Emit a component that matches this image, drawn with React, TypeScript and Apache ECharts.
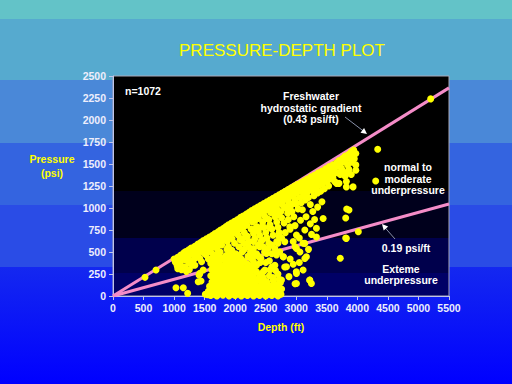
import React, { useEffect, useRef } from "react";
import * as echarts from "echarts";

const xTicks = [0, 500, 1000, 1500, 2000, 2500, 3000, 3500, 4000, 4500, 5000, 5500];
const yTicks = [0, 250, 500, 750, 1000, 1250, 1500, 1750, 2000, 2250, 2500];

const hydroLine = [[0, 0], [5500, 2365]];
const underLine = [[0, 0], [5500, 1045]];

const upperBand = [
  [1000,420],[1020,385],[1060,440],[1080,400],[1050,345],[1110,465],[1130,425],[1100,370],[1160,490],[1150,445],
  [1190,505],[1210,470],[1180,410],[1240,525],[1260,490],[1230,440],[1280,545],[1300,510],[1320,470],[1290,395],
  [1340,565],[1360,530],[1350,480],[1390,590],[1400,550],[1420,505],[1380,455],[1440,610],[1460,575],[1450,530],
  [1480,630],[1500,600],[1510,555],[1490,490],[1530,650],[1550,620],[1560,575],[1540,520],[1580,670],[1600,640],
  [1610,595],[1590,545],[1630,690],[1650,660],[1660,615],[1640,560],[1670,710],[1690,680],[1700,640],[1680,590],
  [1720,730],[1740,700],[1750,655],[1730,605],[1760,750],[1780,720],[1800,680],[1790,630],[1810,770],[1830,740],
  [1840,700],[1820,650],[1850,790],[1870,760],[1880,715],[1900,675],[1890,810],[1910,780],[1930,740],[1920,690],
  [1940,830],[1960,800],[1980,760],[1970,715],[1990,850],[2010,820],[2020,780],[2000,735],[2040,870],[2060,840],
  [2070,800],[2050,750],[2090,895],[2100,860],[2110,820],[2120,770],[2130,910],[2150,880],[2160,840],[2140,790],
  [2180,930],[2200,900],[2210,860],[2190,805],[2230,950],[2240,920],[2250,875],[2270,970],[2290,940],[2300,895],
  [2280,840],[2320,990],[2340,960],[2350,915],[2330,860],[2370,1010],[2390,980],[2400,935],[2380,880],[2420,1030],
  [2440,1000],[2450,950],[2470,1050],[2490,1020],[2500,975],[2480,910],[2520,1070],[2540,1040],[2550,995],[2570,1090],
  [2590,1060],[2600,1015],[2580,950],[2620,1110],[2640,1080],[2650,1035],[2670,1130],[2690,1100],[2700,1050],[2680,990],
  [2720,1150],[2740,1120],[2750,1075],[2770,1170],[2790,1140],[2800,1095],[2780,1030],[2820,1190],[2840,1160],[2850,1110],
  [2870,1210],[2890,1180],[2900,1130],[2880,1060],[2920,1230],[2940,1200],[2950,1150],[2970,1250],[2990,1220],[3000,1170],
  [2980,1100],[3020,1270],[3040,1240],[3060,1195],[3080,1290],[3100,1260],[3110,1210],[3130,1310],[3150,1280],[3170,1230],
  [3180,1330],[3200,1300],[3220,1250],[3240,1355],[3260,1320],[3280,1270],[3300,1375],[3320,1340],[3340,1290],[3360,1400],
  [3380,1365],[3400,1320],[3420,1420],[3440,1385],[3460,1340],[3480,1445],[3500,1410],[3520,1360],[3540,1470],[3560,1430],
  [3580,1385],[3600,1490],[3620,1455],[3640,1405],[3660,1515],[3680,1475],[3700,1540],[3720,1500],[3740,1450],[3760,1565],
  [3780,1525],[3800,1590],[3820,1550],[3840,1490],[3860,1610],[3880,1575],[3900,1640],[3920,1600],[3940,1660],[3950,1560],
  [3910,1520],[3860,1440],
  [1130,330],[1240,380],[1330,420],[1420,430],[1520,470],[1600,500],[1700,540],[1780,580],[1870,620],[1950,650],
  [1340,350],[1450,390],[1560,420],[1680,470],[1890,560],[1990,600],[2080,640],[2170,670]
];

const midCloud = [
  [2050,690],[2100,650],[2150,720],[2200,680],[2230,620],[2260,760],[2300,710],[2320,650],[2350,790],[2380,740],
  [2400,690],[2420,620],[2450,840],[2470,780],[2500,720],[2520,660],[2550,870],[2570,810],[2600,760],[2620,690],
  [2650,900],[2680,840],[2700,780],[2720,720],[2750,960],[2760,890],[2800,830],[2830,1000],[2860,940],[2870,870],
  [2900,1010],[2930,960],[2960,900],[3000,1050],[3030,990],[3060,1120],[3080,1060],[3100,980],[3120,1150],[3150,1090],
  [3180,1180],[3200,1120],[3230,1040],[3260,1200],[3290,1140],[3320,1230],[3350,1170],[3380,1260],[3400,1190],[3430,1280],
  [3460,1220],[3500,1300],[3530,1250],[3560,1330],[3600,1350],[3630,1300],[3680,1400],[3720,1380],[3760,1420],[3800,1360],
  [3850,1400],[3900,1380],[3700,1280],[3660,1280],[3820,1300],[3820,1240],[3930,1240],[3975,1430],[3975,1490],[3975,1620],
  [3270,960],[3350,1010],[3420,1070],[3300,870],[3440,880],[3330,770],[3230,820],[3160,900],[3070,860],[2980,800],
  [2900,760],[2820,720],[2760,660],[2680,620],[2600,580],[2540,540],[2460,560],[2380,580],[2300,540],[2220,560],
  [2140,600],[2060,560],[2520,880],[2620,950],[2700,920],[2850,1010],[2950,1050],[2440,790],[2330,760],[2560,780],
  [2250,500],[2300,620],[2350,480],[2400,560],[2450,640],[2480,500],[2550,600],[2600,480],[2650,540],[2700,600],
  [2720,680],[2200,600],[2150,530],[2280,430],[2380,450]
];

const lowerScatter = [
  [2349,276],[2485,295],[2567,295],[2758,181],[2840,332],[3003,143],[3112,295],[3221,181],[3248,143],[3003,257],
  [3166,446],[3139,598],[3003,541],[2512,484],[2676,465],[2730,503],[2785,446],[2812,617],[3003,692],[2894,787],
  [3330,670],[3140,750],[3110,600],[2980,560],[3140,427],[3000,275],[3220,180],[2980,140],[2790,445],[2810,330],
  [2650,350],[2460,275],[2900,420],[2950,360],[3050,380],[2700,250],[2620,210],[2880,220],[3060,500],[3200,530],
  [2560,400],[2420,430],[2950,620],[3250,700],[3050,660],
  [1060,310],[1120,300],[1180,330],[1250,300],[1300,350],[1200,280]
];

const outliers = [
  [524,212],[704,295],[1031,94],[1151,94],[1222,30],[1511,19],[1408,239],[1441,170],[1395,162],[1422,257],
  [1477,295],[4333,1667],[4300,1306],[3825,988],[3863,977],[3809,886],[4016,730],[3809,659],[3720,428],[5200,2240],
  [3820,655]
];

const column = [
  [1550,15],[1560,55],[1580,110],
  [1600,5],[1610,45],[1605,95],[1620,160],[1600,230],[1615,300],[1600,370],[1620,430],
  [1650,20],[1660,70],[1645,130],[1665,190],[1650,255],[1655,320],[1670,390],[1650,460],
  [1700,0],[1710,40],[1700,100],[1715,150],[1700,215],[1720,275],[1705,340],[1710,410],
  [1750,25],[1760,65],[1745,120],[1765,185],[1750,245],[1760,305],[1745,370],[1760,440],[1755,500],
  [1800,10],[1810,50],[1800,100],[1815,160],[1800,220],[1810,280],[1820,350],[1805,420],
  [1850,30],[1860,75],[1845,135],[1865,195],[1850,260],[1855,330],[1860,395],[1850,460],[1865,530],
  [1900,0],[1910,45],[1900,95],[1915,150],[1900,210],[1905,275],[1915,340],[1900,400],[1910,470],
  [1950,20],[1960,65],[1945,120],[1965,180],[1950,245],[1960,310],[1950,370],[1960,440],[1945,520],
  [2000,5],[2010,50],[2000,100],[2015,160],[2000,220],[2010,285],[2020,345],[2005,410],[2010,480],
  [2050,25],[2060,70],[2045,125],[2065,185],[2050,250],[2060,320],[2050,390],[2060,460],
  [2100,0],[2110,45],[2100,95],[2115,150],[2100,215],[2110,280],[2105,350],[2100,420],[2115,500],
  [2150,20],[2160,65],[2145,120],[2165,180],[2150,245],[2160,310],[2150,390],
  [2200,5],[2210,50],[2200,100],[2215,160],[2200,225],[2210,290],[2205,360],[2210,450],
  [2250,25],[2260,70],[2245,125],[2265,190],[2250,260],[2260,340],[2255,430],
  [2300,0],[2310,45],[2300,100],[2315,160],[2300,220],[2310,300],[2300,390],[2310,470],
  [2350,20],[2360,65],[2345,120],[2365,185],[2350,350],
  [2400,5],[2410,50],[2400,105],[2415,170],[2400,240],[2410,380],
  [2450,25],[2460,70],[2445,130],[2460,210],
  [2500,0],[2510,45],[2500,100],[2515,165],[2500,380],
  [2550,20],[2560,65],[2545,125],[2560,230],
  [2600,5],[2610,50],[2600,110],[2620,180],[2600,330],
  [2650,25],[2660,75],[2645,140],[2660,290],
  [2700,0],[2710,45],[2700,110],[2720,190],
  [2750,20],[2760,80],[2740,150]
];

const FONT = "'Liberation Sans', Arial, sans-serif";

export default function App() {
  const ref = useRef<HTMLDivElement>(null);
  useEffect(() => {
    if (!ref.current) return;
    const chart = echarts.init(ref.current, null, { renderer: "svg", width: 512, height: 384 });
    const bg = new echarts.graphic.LinearGradient(0, 0, 0, 1, [
      { offset: 0, color: "#63c3c8" },
      { offset: 19 / 384, color: "#63c3c8" },
      { offset: 19 / 384, color: "#56aacf" },
      { offset: 80 / 384, color: "#56aacf" },
      { offset: 80 / 384, color: "#4a88d8" },
      { offset: 143 / 384, color: "#4a88d8" },
      { offset: 143 / 384, color: "#3464e0" },
      { offset: 205 / 384, color: "#3464e0" },
      { offset: 205 / 384, color: "#2a4ce6" },
      { offset: 267 / 384, color: "#2a4ce6" },
      { offset: 267 / 384, color: "#1428f0" },
      { offset: 1, color: "#0000ff" },
    ]);
    const txt = (x: number, y: number, text: string, extra: any = {}) => ({
      type: "text",
      x,
      y,
      z: 100,
      style: {
        text,
        fill: "#ffffff",
        font: `bold 10.5px ${FONT}`,
        textAlign: "center",
        textVerticalAlign: "middle",
        lineHeight: 11.5,
        ...extra,
      },
    });
    const mk = (data: number[][]) => ({
      type: "scatter",
      data,
      symbolSize: 7,
      itemStyle: { color: "#ffff00", opacity: 1 },
      z: 3,
    });
    const lbl = {
      color: "#eeeefc",
      fontSize: 10.5,
      fontWeight: "bold",
      fontFamily: FONT,
      formatter: (v: number) => String(v),
    };
    chart.setOption({
      animation: false,
      backgroundColor: bg,
      grid: { left: 113, top: 76, width: 336, height: 220, show: true, borderColor: "#a8a8b8", borderWidth: 1, backgroundColor: "transparent" },
      xAxis: {
        type: "value",
        min: xTicks[0],
        max: xTicks[xTicks.length - 1],
        interval: 500,
        axisLine: { lineStyle: { color: "#c0c4e8" } },
        axisTick: { show: true, length: 4, lineStyle: { color: "#c0c4e8" } },
        axisLabel: { ...lbl, margin: 6 },
        splitLine: { show: false },
      },
      yAxis: {
        type: "value",
        min: yTicks[0],
        max: yTicks[yTicks.length - 1],
        interval: 250,
        axisLine: { show: true, lineStyle: { color: "#c0c4e8" } },
        axisTick: { show: true, length: 4, lineStyle: { color: "#c0c4e8" } },
        axisLabel: { ...lbl, margin: 7 },
        splitLine: { show: false },
      },
      graphic: [
        { type: "rect", z: -10, shape: { x: 113, y: 76, width: 336, height: 115 }, style: { fill: "#000000" } },
        { type: "rect", z: -10, shape: { x: 113, y: 191, width: 336, height: 47 }, style: { fill: "#00001c" } },
        { type: "rect", z: -10, shape: { x: 113, y: 238, width: 336, height: 35 }, style: { fill: "#00004c" } },
        { type: "rect", z: -10, shape: { x: 113, y: 273, width: 336, height: 23 }, style: { fill: "#000066" } },
        txt(282, 50, "PRESSURE-DEPTH PLOT", { fill: "#ffff00", font: `17px ${FONT}` }),
        txt(52, 166, "Pressure\n(psi)", { fill: "#ffff00", lineHeight: 14 }),
        txt(281, 327, "Depth (ft)", { fill: "#ffff00" }),
        txt(143, 91, "n=1072"),
        txt(311, 107.5, "Freshwater\nhydrostatic gradient\n(0.43 psi/ft)"),
        txt(408, 178.5, "normal to\nmoderate\nunderpressure"),
        txt(406, 248, "0.19 psi/ft"),
        txt(401, 274.5, "Exteme\nunderpressure"),
        { type: "line", z: 100, shape: { x1: 345, y1: 117, x2: 364, y2: 131.5 }, style: { stroke: "#8890a8", lineWidth: 1 } },
        { type: "polygon", z: 100, shape: { points: [[367, 134], [360.5, 132.7], [364.1, 127.9]] }, style: { fill: "#ffffff" } },
        { type: "line", z: 100, shape: { x1: 395, y1: 239, x2: 384, y2: 226.5 }, style: { stroke: "#8890a8", lineWidth: 1 } },
        { type: "polygon", z: 100, shape: { points: [[382, 224], [388.2, 226.6], [383.7, 230.5]] }, style: { fill: "#ffffff" } },
      ],
      series: [
        { type: "line", data: hydroLine, symbol: "none", lineStyle: { color: "#f48cc8", width: 3 }, z: 2 },
        { type: "line", data: underLine, symbol: "none", lineStyle: { color: "#f48cc8", width: 3 }, z: 2 },
        mk(upperBand),
        mk(midCloud),
        mk(lowerScatter),
        mk(column),
        mk(outliers),
      ],
    });
    return () => chart.dispose();
  }, []);
  return <div ref={ref} style={{ position: "fixed", left: 0, top: 0, width: 512, height: 384 }} />;
}
